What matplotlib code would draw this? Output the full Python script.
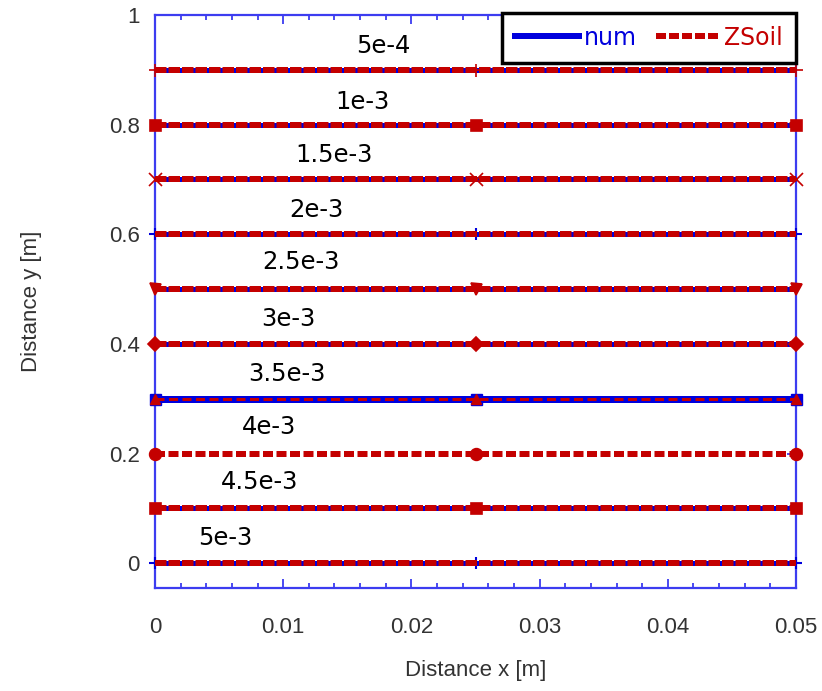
import matplotlib
matplotlib.use('Agg')
import matplotlib.pyplot as plt
from matplotlib.lines import Line2D
from matplotlib.ticker import MultipleLocator, FuncFormatter

# strain levels (labels) and the y position of each profile
strains = ['5e-4', '1e-3', '1.5e-3', '2e-3', '2.5e-3', '3e-3', '3.5e-3', '4e-3', '4.5e-3', '5e-3']
x_nodes = [0.0, 0.025, 0.05]
num_y = [0.9, 0.8, 0.7, 0.6, 0.5, 0.4, 0.3, 0.2, 0.1, 0.0]
zsoil_y = [0.9, 0.8, 0.7, 0.6, 0.5, 0.4, 0.3, 0.2, 0.1, 0.0]

# where the strain labels sit
lab_x = [0.0178, 0.0162, 0.0140, 0.0126, 0.0114, 0.0104, 0.0103, 0.0089, 0.0082, 0.0055]
lab_y = [0.943, 0.841, 0.745, 0.644, 0.549, 0.445, 0.345, 0.248, 0.148, 0.047]

zsoil_mk = ['+', 's', 'x', None, 'v', 'D', '^', 'o', 's', None]
num_mk = [None, None, None, '+', None, None, 's', None, None, '+']

BLUE = '#0000dd'
RED = '#c40000'
SPINE = '#3c3cf0'
PX = 0.72  # points per pixel at dpi 100

plt.rcParams['lines.scale_dashes'] = False

fig = plt.figure(figsize=(8.22, 6.91), dpi=100)
ax = fig.add_axes([155/822, 1-588/691, 641/822, 573/691])

for i in range(len(strains)):
    yn = [num_y[i]] * len(x_nodes)
    yz = [zsoil_y[i]] * len(x_nodes)
    if strains[i] == '3.5e-3':
        ax.plot(x_nodes, yn, color=BLUE, lw=7*PX, marker=num_mk[i], ms=11*PX,
                solid_capstyle='butt', clip_on=False, zorder=3)
        ax.plot(x_nodes, yz, color=RED, lw=3*PX, dashes=(9*PX, 4.5*PX),
                marker=zsoil_mk[i], ms=10*PX, clip_on=False, zorder=4)
    elif strains[i] == '4e-3':
        ax.plot(x_nodes, yz, color=RED, lw=6*PX, dashes=(10*PX, 3.5*PX),
                marker=zsoil_mk[i], ms=12*PX, clip_on=False, zorder=4)
    else:
        ax.plot(x_nodes, yn, color=BLUE, lw=5*PX, marker=num_mk[i], ms=12*PX, mew=1.5,
                solid_capstyle='butt', clip_on=False, zorder=3)
        if zsoil_mk[i] in ('+', 'x'):
            ms = 13*PX
        elif zsoil_mk[i] == 'D':
            ms = 10*PX
        else:
            ms = 11*PX
        ax.plot(x_nodes, yz, color=RED, lw=6*PX, dashes=(11.5*PX, 2*PX),
                marker=zsoil_mk[i], ms=ms, mew=1.2, clip_on=False, zorder=4)
    ax.text(lab_x[i], lab_y[i], strains[i], ha='center', va='center',
            fontsize=17.5, family='DejaVu Sans', color='black')

ax.set_xlim(0, 0.05)
ax.set_ylim(-0.045, 1)
ax.xaxis.set_major_locator(MultipleLocator(0.01))
ax.xaxis.set_minor_locator(MultipleLocator(0.002))
ax.yaxis.set_major_locator(MultipleLocator(0.2))
ax.yaxis.set_minor_locator(MultipleLocator(0.1))
fmt = FuncFormatter(lambda v, p: '%g' % round(v, 4))
ax.xaxis.set_major_formatter(fmt)
ax.yaxis.set_major_formatter(fmt)

ax.tick_params(which='both', direction='in', top=True, right=True, color=SPINE,
               width=1.3, labelsize=16, labelcolor='#333333')
ax.tick_params(which='major', length=9*PX)
ax.tick_params(which='minor', length=5*PX)
ax.tick_params(axis='x', pad=21)
ax.tick_params(axis='y', pad=11)
for lbl in ax.get_xticklabels() + ax.get_yticklabels():
    lbl.set_family('Liberation Sans')
for s in ax.spines.values():
    s.set_color(SPINE)
    s.set_linewidth(1.6)

ax.set_xlabel('Distance x [m]', fontsize=16, family='Liberation Sans', color='#333333', labelpad=16)
ax.set_ylabel('Distance y [m]', fontsize=16, family='Liberation Sans', color='#333333', labelpad=48)

handles = [Line2D([], [], color=BLUE, lw=6*PX),
           Line2D([], [], color=RED, lw=6*PX, dashes=(10*PX, 3*PX))]
leg = ax.legend(handles, ['num', 'ZSoil'], loc='upper right', bbox_to_anchor=(1.0, 1.004),
                ncol=2, frameon=True, fancybox=False, framealpha=1, borderaxespad=0,
                handlelength=2.7, handletextpad=0.2, columnspacing=0.8, borderpad=0.55,
                prop={'family': 'DejaVu Sans', 'size': 17})
leg.get_frame().set_edgecolor('black')
leg.get_frame().set_linewidth(2.5)
leg.set_zorder(10)
leg.get_texts()[0].set_color(BLUE)
leg.get_texts()[1].set_color(RED)

fig.savefig('out.png', dpi=100)
